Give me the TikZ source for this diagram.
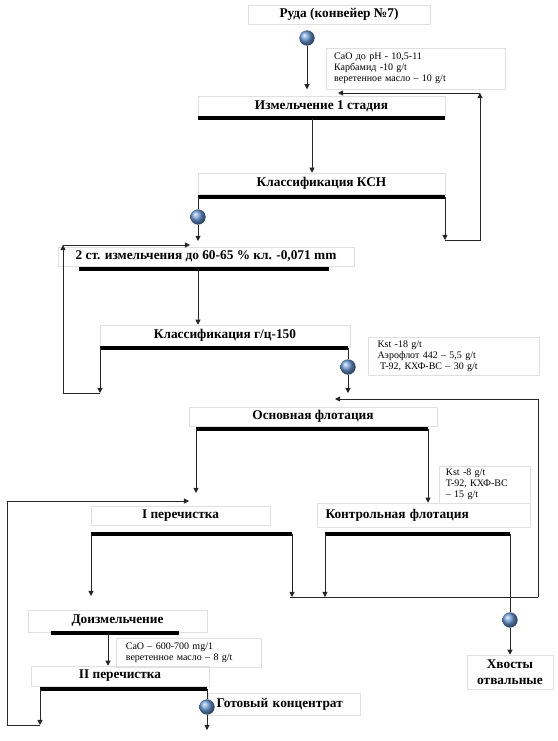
\documentclass[tikz,border=0pt]{standalone}
\usepackage{fontspec}
\setmainfont{Liberation Serif}
\usetikzlibrary{arrows.meta}
\definecolor{ballblue}{HTML}{6C9AD6}

\begin{document}
\begin{tikzpicture}[x=.75pt,y=-.75pt,>={Triangle[length=3.8pt,width=3.8pt]},
 sz/.style 2 args={minimum width=#1*.75pt,minimum height=#2*.75pt},
 bx/.style={draw=black!12,inner sep=0,font=\bfseries\fontsize{10}{12}\selectfont},
 rg/.style={draw=black!12,inner ysep=0,align=left,font=\fontsize{7.5}{8.4}\selectfont},
 bar/.style={line width=2.4pt},
 ln/.style={draw=black!85,line width=.65pt},
 drop/.style={circle,inner sep=0,minimum size=11.5pt,ball color=ballblue}]
\useasboundingbox (0,0) rectangle (557,741);
\node[bx,sz={182}{19}] (ruda) at (339,14.5) {Руда (конвейер №7)};
\node[rg,sz={179}{41},inner xsep=6pt,text width=122pt] (r1) at (415.5,68.5) {CaO до pH - 10,5-11\\Карбамид -10 g/t\\веретенное масло -- 10 g/t};
\node[bx,sz={247}{20}] (izm1) at (321.5,106) {Измельчение 1 стадия};
\node[bx,sz={247}{21}] (ksn) at (321.5,183.5) {Классификация КСН};
\node[bx,sz={296}{19}] (izm2) at (206,256.5) {2 ст. измельчения до 60-65 \% кл. -0,071 mm};
\node[bx,sz={250}{21}] (gc) at (225,335.5) {Классификация г/ц-150};
\node[rg,sz={171}{38},inner xsep=7pt,text width=114pt] (r2) at (453.5,356) {Kst -18 g/t\\Аэрофлот 442 -- 5,5 g/t\\\hspace{2pt}T-92, КХФ-BC -- 30 g/t};
\node[bx,sz={248}{19}] (osn) at (313,416.5) {Основная флотация};
\node[rg,sz={91}{37},inner xsep=5pt,text width=58pt] (r4) at (484.5,484.5) {Kst -8 g/t\\T-92, КХФ-BC\\-- 15 g/t};
\node[bx,sz={179}{19}] (per1) at (180.5,515.5) {I перечистка};
\node[bx,sz={213}{24},inner xsep=6pt,text width=147pt,align=left] (kontr) at (423.5,515) {Контрольная флотация};
\node[bx,sz={179}{22}] (doizm) at (117.5,621) {Доизмельчение};
\node[rg,sz={145}{29},inner xsep=7pt,text width=94pt] (r3) at (188.5,652.5) {CaO -- 600-700 mg/1\\веретенное масло -- 8 g/t};
\node[bx,sz={178}{20}] (per2) at (120,676) {II перечистка};
\node[bx,sz={151}{22},inner xsep=6pt,text width=102pt,align=left] (konc) at (284.5,704) {Готовый концентрат};
\node[bx,sz={86}{34},align=center] (hvost) at (510,672) {Хвосты\\отвальные};
\node[drop] (b1) at (307,38) {};
\node[drop] (b2) at (198,217) {};
\node[drop] (b3) at (348,367) {};
\node[drop] (b4) at (510,620) {};
\node[drop] (b5) at (207,707) {};
\coordinate (i1l) at (198,118); \coordinate (i1r) at (445,118); \coordinate (i1m) at (312,118);
\coordinate (k1l) at (198,197); \coordinate (k1r) at (445,197);
\coordinate (i2l) at (79,269); \coordinate (i2r) at (329,269); \coordinate (i2m) at (198,269);
\coordinate (g1l) at (100,348); \coordinate (g1r) at (348,348);
\coordinate (o1l) at (196,429); \coordinate (o1r) at (428,429);
\coordinate (p1l) at (91,534); \coordinate (p1r) at (292,534);
\coordinate (c1l) at (325,534); \coordinate (c1r) at (510,534);
\coordinate (d1l) at (51,633); \coordinate (d1r) at (179,633); \coordinate (d1m) at (108,633);
\coordinate (p2l) at (40,689); \coordinate (p2r) at (207,689);
\foreach \a/\b in {i1l/i1r,k1l/k1r,i2l/i2r,g1l/g1r,o1l/o1r,p1l/p1r,c1l/c1r,d1l/d1r,p2l/p2r}
 \draw[bar] (\a) -- (\b);
\coordinate (t2) at (198,241); \coordinate (t3) at (348,393); \coordinate (t5) at (207,730);
\coordinate (u1) at (445,240); \coordinate (u2) at (480,240); \coordinate (u3) at (480,93); \coordinate (u4) at (338,93);
\coordinate (v1) at (100,393); \coordinate (v2) at (63,393); \coordinate (v3) at (63,245); \coordinate (v4) at (190,245);
\coordinate (h1) at (290,597); \coordinate (h2) at (325,597); \coordinate (h3) at (538,597); \coordinate (h4) at (538,399); \coordinate (h5) at (335,399);
\coordinate (z1) at (40,725); \coordinate (z2) at (7,725); \coordinate (z3) at (7,501); \coordinate (z4) at (189,501);
\coordinate (q1) at (91,596); \coordinate (q2) at (196,493);
\draw[ln,->] (b1.south) -- (b1 |- r1.south);
\draw[ln,->] (i1m) -- (i1m |- ksn.north);
\draw[ln] (k1l) -- (b2.north); \draw[ln,->] (b2.south) -- (t2);
\draw[ln,->] (k1r) -- (u1); \draw[ln,->] (u1) -- (u2) -- (u3); \draw[ln,->] (u3) -- (u4);
\draw[ln,->] (i2m) -- (i2m |- gc.north);
\draw[ln,->] (g1l) -- (v1); \draw[ln,->] (v1) -- (v2) -- (v3); \draw[ln,->] (v3) -- (v4);
\draw[ln] (g1r) -- (b3.north); \draw[ln,->] (b3.south) -- (t3);
\draw[ln,->] (o1l) -- (q2); \draw[ln,->] (o1r) -- (o1r |- kontr.north);
\draw[ln,->] (p1l) -- (q1); \draw[ln,->] (p1r) -- (h1 -| p1r); \draw[ln,->] (c1l) -- (h2);
\draw[ln] (h1) -- (h3); \draw[ln,->] (h3) -- (h4) -- (h5);
\draw[ln] (c1r) -- (b4.north); \draw[ln,->] (b4.south) -- (b4 |- hvost.north);
\draw[ln,->] (d1m) -- (d1m |- per2.north);
\draw[ln,->] (p2l) -- (z1); \draw[ln,->] (z1) -- (z2) -- (z3) -- (z4);
\draw[ln] (p2r) -- (b5.north); \draw[ln,->] (b5.south) -- (t5);
\end{tikzpicture}
\end{document}
